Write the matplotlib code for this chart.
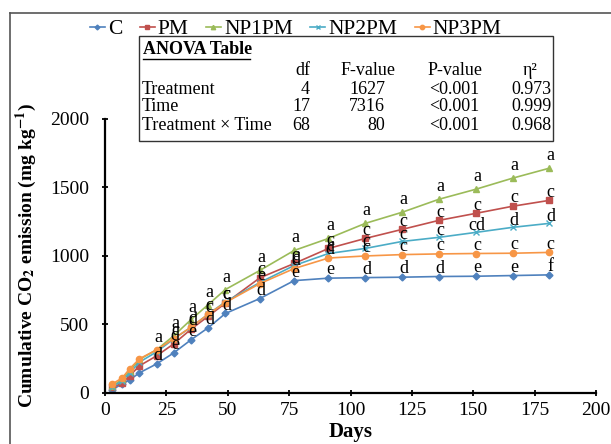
"""
Cumulative CO2 emission over incubation days, with ANOVA table inset.
"""
import matplotlib
matplotlib.use("Agg")
import matplotlib.pyplot as plt
from matplotlib.lines import Line2D
from matplotlib.patches import Rectangle

plt.rcParams["font.family"] = ["Liberation Serif", "DejaVu Serif"]
plt.rcParams["mathtext.fontset"] = "stix"

days = [3, 7, 10, 14, 21, 28, 35, 42, 49, 63, 77, 91, 106, 121, 136, 151, 166, 181]

c_vals = [25, 66, 95, 147, 212, 293, 388, 476, 580, 689, 820, 838, 842, 845, 850, 852, 857, 862]
pm_vals = [40, 73, 125, 198, 271, 359, 465, 560, 655, 840, 945, 1055, 1128, 1194, 1260, 1311, 1363, 1406]
np1_vals = [50, 100, 160, 245, 315, 418, 535, 645, 755, 894, 1040, 1128, 1238, 1319, 1414, 1487, 1568, 1641]
np2_vals = [45, 88, 145, 225, 300, 395, 480, 575, 665, 806, 930, 1018, 1055, 1106, 1136, 1172, 1209, 1238]
np3_vals = [66, 110, 176, 249, 315, 396, 480, 575, 660, 798, 908, 985, 1000, 1010, 1015, 1018, 1020, 1026]

# significance letters per time point ('' = none shown)
c_lets = ["", "", "", "", "d", "e", "e", "d", "d", "d", "e", "e", "d", "d", "d", "e", "e", "f"]
pm_lets = ["", "", "", "", "", "d", "d", "c", "c", "c", "c", "c", "c", "c", "c", "c", "c", "c"]
np1_lets = ["", "", "", "", "a", "a", "a", "a", "a", "a", "a", "a", "a", "a", "a", "a", "a", "a"]
np2_lets = ["", "", "", "", "", "", "", "", "", "", "c", "c", "c", "c", "c", "cd", "d", "d"]
np3_lets = ["", "", "", "", "", "c", "c", "c", "c", "e", "d", "d", "c", "c", "c", "c", "c", "c"]

series = [
    ("C", c_vals, c_lets, "#4F81BD", "D", 3.5, 6),
    ("PM", pm_vals, pm_lets, "#C0504D", "s", 4.5, 6),
    ("NP1PM", np1_vals, np1_lets, "#9BBB59", "^", 4.5, 9),
    ("NP2PM", np2_vals, np2_lets, "#4BACC6", "x", 4.5, 5),
    ("NP3PM", np3_vals, np3_lets, "#F79646", "o", 4.5, 6),
]

anova_rows = ["Treatment", "Time", "Treatment \u00d7 Time"]
anova_df = ["4", "17", "68"]
anova_f = ["1627", "7316", "80"]
anova_p = ["<0.001", "<0.001", "<0.001"]
anova_eta = ["0.973", "0.999", "0.968"]

fig = plt.figure(figsize=(6.11, 4.44), dpi=100)
ax = fig.add_axes([0.172, 0.115, 0.8036, 0.617])

for name, vals, lets, color, marker, ms, dy in series:
    ax.plot(days, vals, color=color, marker=marker, markersize=ms,
            linewidth=1.2, label=name, markeredgewidth=1.0)
    for d, v, l in zip(days, vals, lets):
        if l:
            ax.annotate(l, (d, v), textcoords="offset points", xytext=(1, dy),
                        ha="center", va="center", fontsize=13)

ax.set_xlim(0, 200)
ax.set_ylim(0, 2000)
ax.set_xticks(range(0, 201, 25))
ax.set_yticks(range(0, 2001, 500))
ax.spines["top"].set_visible(False)
ax.spines["right"].set_visible(False)
for s in ("left", "bottom"):
    ax.spines[s].set_linewidth(1.6)
ax.tick_params(direction="inout", length=5, width=1.3, labelsize=14)
ax.tick_params(axis="y", pad=9)
ax.tick_params(axis="x", pad=4)
ax.set_xlabel("Days", fontsize=15, fontweight="bold", labelpad=2)
ax.set_ylabel(r"Cumulative CO$_\mathbf{2}$ emission (mg kg$^{\mathbf{-1}}$)",
              fontsize=14, fontweight="bold", labelpad=8)

ax.legend(loc="center", bbox_to_anchor=(0.484, 0.934), bbox_transform=fig.transFigure,
          ncol=5, frameon=False, fontsize=15.5, handlelength=0.7, handletextpad=0.15,
          columnspacing=0.8, markerscale=0.7, borderaxespad=0, borderpad=0)

# ANOVA table inset, in figure coordinates
L, R, T, B = 139 / 611, 553 / 611, 1 - 36 / 444, 1 - 141 / 444
W, H = R - L, T - B
fig.add_artist(Rectangle((L, B), W, H, transform=fig.transFigure, fill=False,
                         edgecolor="#333333", linewidth=1.0))
fs = 13
fig.text(L + 0.01 * W, T - 0.133 * H, "ANOVA Table", fontsize=fs, fontweight="bold",
         ha="left", va="center")
fig.add_artist(Line2D([L + 0.009 * W, L + 0.267 * W], [T - 0.215 * H] * 2,
                      transform=fig.transFigure, color="black", linewidth=1.0))
hy = T - 0.324 * H
fig.text(L + 0.413 * W, hy, "df", fontsize=fs, ha="right", va="center")
fig.text(L + 0.554 * W, hy, "F-value", fontsize=fs, ha="center", va="center")
fig.text(L + 0.763 * W, hy, "P-value", fontsize=fs, ha="center", va="center")
fig.text(L + 0.945 * W, hy, "\u03b7\u00b2", fontsize=fs, ha="center", va="center")
for i, ry in enumerate([0.505, 0.676, 0.848]):
    y = T - ry * H
    fig.text(L + 0.007 * W, y, anova_rows[i], fontsize=fs, ha="left", va="center")
    fig.text(L + 0.413 * W, y, anova_df[i], fontsize=fs, ha="right", va="center")
    fig.text(L + 0.595 * W, y, anova_f[i], fontsize=fs, ha="right", va="center")
    fig.text(L + 0.762 * W, y, anova_p[i], fontsize=fs, ha="center", va="center")
    fig.text(L + 0.997 * W, y, anova_eta[i], fontsize=fs, ha="right", va="center")

# outer frame (top and left edges visible)
fig.add_artist(Line2D([10 / 611, 1.0], [1 - 12.7 / 444] * 2, transform=fig.transFigure,
                      color="#555555", linewidth=1.2))
fig.add_artist(Line2D([10 / 611] * 2, [0.0, 1 - 12.7 / 444], transform=fig.transFigure,
                      color="#555555", linewidth=1.2))

fig.savefig("out.png", dpi=100)
